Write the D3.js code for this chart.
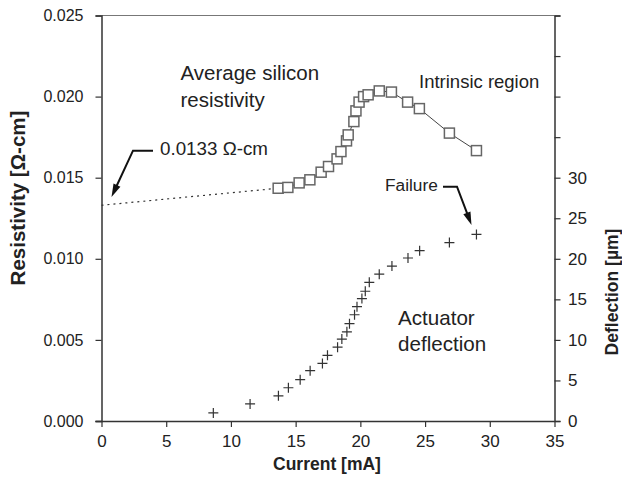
<!DOCTYPE html>
<html><head><meta charset="utf-8">
<script src="https://cdn.jsdelivr.net/npm/d3@7"></script>
<style>
body{margin:0;background:#fff;}
text{font-family:"Liberation Sans",Arial,Helvetica,sans-serif;fill:#222;}
</style></head>
<body>
<svg id="c" width="622" height="479"></svg>
<script>
// Resistivity data (Current mA, Resistivity ohm-cm)
const resCurrent = [13.65,14.4,15.27,16.1,16.97,17.54,18.2,18.5,18.93,19.06,19.5,19.66,19.9,20.25,20.6,21.46,22.4,23.65,24.56,26.88,28.97];
const resValues  = [0.01435,0.0144,0.01468,0.01487,0.01534,0.01569,0.01616,0.01661,0.01727,0.01764,0.01846,0.01912,0.01966,0.0200,0.02011,0.02035,0.02028,0.01966,0.01926,0.01775,0.01667];
// Extrapolated dotted segment
const extrapCurrent = [0, 13.65];
const extrapValues  = [0.0133, 0.01435];
// Deflection data (Current mA, Deflection um)
const defCurrent = [8.64,11.48,13.67,14.44,15.35,16.12,17.07,17.46,18.24,18.57,18.96,19.16,19.55,19.74,20.12,20.38,20.69,21.46,22.44,23.68,24.58,26.88,28.97];
const defValues  = [1.0,2.1,3.1,4.1,5.1,6.2,7.1,8.1,9.1,10.1,11.0,12.0,13.1,14.1,15.1,16.0,17.1,18.1,19.1,20.1,21.0,22.0,23.0];
// Ticks
const xTicks = [0,5,10,15,20,25,30,35];
const yLeftTicks = [0,0.005,0.010,0.015,0.020,0.025];
const yRightTicks = [0,5,10,15,20,25,30,35,40,45,50];
const yRightLabeled = [0,5,10,15,20,25,30];

const svg = d3.select("#c");
const L=101.5, R=554.5, T=15.5, B=421;
const x = d3.scaleLinear().domain([0,35]).range([L,R]);
const yL = d3.scaleLinear().domain([0,0.025]).range([B,T]);
const yR = d3.scaleLinear().domain([0,50]).range([B,T]);

// top border
svg.append("line").attr("x1",L).attr("x2",R).attr("y1",T).attr("y2",T).attr("stroke","#777").attr("stroke-width",1.2);

const axCol="#333";
const gx = svg.append("g").attr("transform",`translate(0,${B})`)
  .call(d3.axisBottom(x).tickValues(xTicks).tickFormat(d3.format("d")).tickSize(6).tickPadding(7.5));
const gl = svg.append("g").attr("transform",`translate(${L},0)`)
  .call(d3.axisLeft(yL).tickValues(yLeftTicks).tickFormat(d3.format(".3f")).tickSize(6).tickPadding(12));
const gr = svg.append("g").attr("transform",`translate(${R},0)`)
  .call(d3.axisRight(yR).tickValues(yRightTicks).tickFormat(d=>yRightLabeled.includes(d)?d:"").tickSize(6).tickPadding(7.5));
[gx,gl,gr].forEach(g=>{
  g.selectAll("path").attr("stroke",axCol).attr("stroke-width",1.5);
  g.selectAll("line").attr("stroke",axCol).attr("stroke-width",1.2);
  g.selectAll("text").style("font-family","'Liberation Sans',Arial,sans-serif").attr("fill","#222");
});
gl.selectAll("text").style("font-size","16px");
gx.selectAll("text").style("font-size","17px");
gr.selectAll("text").style("font-size","17px");
gx.selectAll("path").attr("d",`M${L-6},0.5H${R}`);

// axis titles
svg.append("text").attr("x",327).attr("y",470).attr("text-anchor","middle")
  .style("font-size","17.5px").style("font-weight","bold").text("Current [mA]");
svg.append("text").attr("transform","translate(25,198) rotate(-90)").attr("text-anchor","middle")
  .style("font-size","20.5px").style("font-weight","bold").text("Resistivity [Ω-cm]");
svg.append("text").attr("transform","translate(618,292) rotate(-90)").attr("text-anchor","middle")
  .style("font-size","17.5px").style("font-weight","bold").text("Deflection [µm]");

// dotted extrapolation
const ext = extrapCurrent.map((c,i)=>[c,extrapValues[i]]);
svg.append("path").datum(ext)
  .attr("d",d3.line().x(d=>x(d[0])).y(d=>yL(d[1])))
  .attr("fill","none").attr("stroke","#333").attr("stroke-width",1.2).attr("stroke-dasharray","2,4");

// resistivity line + squares
const res = resCurrent.map((c,i)=>[c,resValues[i]]);
svg.append("path").datum(res)
  .attr("d",d3.line().x(d=>x(d[0])).y(d=>yL(d[1])))
  .attr("fill","none").attr("stroke","#444").attr("stroke-width",1);
const s=10;
svg.append("g").selectAll("rect").data(res).join("rect")
  .attr("x",d=>x(d[0])-s/2).attr("y",d=>yL(d[1])-s/2).attr("width",s).attr("height",s)
  .attr("fill","#fff").attr("stroke","#666").attr("stroke-width",1.5);

// deflection crosses
const def = defCurrent.map((c,i)=>[c,defValues[i]]);
const a=5;
svg.append("g").selectAll("path").data(def).join("path")
  .attr("d",d=>{const px=x(d[0]),py=yR(d[1]);return `M${px-a},${py}H${px+a}M${px},${py-a}V${py+a}`;})
  .attr("stroke","#333").attr("stroke-width",1.2).attr("fill","none");

// annotations
function label(txt,xx,yy,size){svg.append("text").attr("x",xx).attr("y",yy).style("font-size",size+"px").text(txt);}
label("Average silicon",180.5,80,20.5);
label("resistivity",180.5,107,20.5);
label("Intrinsic region",419,88,18.5);
label("0.0133 Ω-cm",160,155,18.8);
label("Failure",385,190.5,17.3);
label("Actuator",398,325,20.6);
label("deflection",398,350.5,20.6);

// leader arrows
function arrow(pts){
  const n=pts.length, [x1,y1]=pts[n-2], [x2,y2]=pts[n-1];
  const dx=x2-x1, dy=y2-y1, len=Math.hypot(dx,dy), ux=dx/len, uy=dy/len;
  const hl=13, hw=3.8;
  const bx=x2-ux*hl, by=y2-uy*hl;
  const linePts=pts.slice(0,n-1).concat([[bx+ux*2,by+uy*2]]);
  svg.append("path").attr("d",d3.line()(linePts)).attr("fill","none").attr("stroke","#111").attr("stroke-width",2);
  svg.append("path").attr("d",`M${x2},${y2}L${bx-uy*hw},${by+ux*hw}L${bx+uy*hw},${by-ux*hw}Z`).attr("fill","#111");
}
arrow([[153,150.7],[133,150.7],[111.5,197]]);
arrow([[443,186.7],[457,186.7],[471.5,225]]);
</script>
</body></html>
